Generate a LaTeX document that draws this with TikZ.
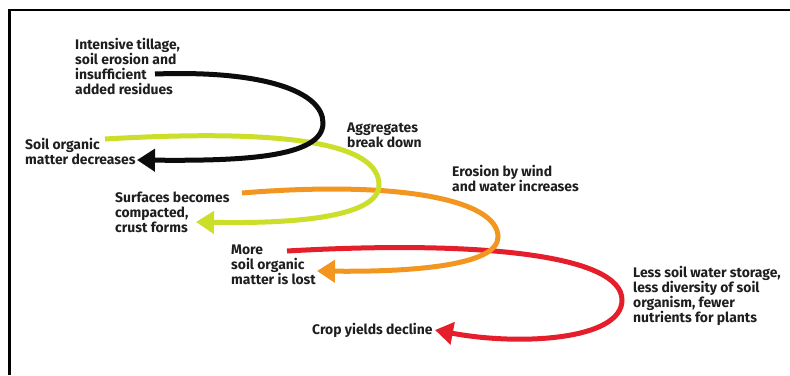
\documentclass[tikz,border=0pt]{standalone}
\usepackage{fontspec}
\setmainfont{Fira Sans}
\usetikzlibrary{arrows.meta}
\definecolor{loopblack}{RGB}{12,12,12}
\definecolor{loopgreen}{RGB}{202,222,42}
\definecolor{looporange}{RGB}{242,150,32}
\definecolor{loopred}{RGB}{228,30,42}
\definecolor{labeltext}{RGB}{30,30,30}

\begin{document}
\begin{tikzpicture}[x=1pt,y=-1pt,
  lbl/.style={font=\bfseries\fontsize{13.9}{15}\selectfont, align=left,
    inner sep=0pt, anchor=west, text=labeltext},
  cycleloop/.style={line width=5pt, -{Triangle[length=18pt,width=22pt]}},
]
\useasboundingbox (0,0) rectangle (790,375);

% open frame along the top and left edges
\draw[line width=2.5pt] (9.5,375) -- (9.5,10) -- (790,10);

% labels
\node[lbl] (till)  at (75,66)   {Intensive tillage,\\soil erosion and\\insufficient\\added residues};
\node[lbl] (som)   at (25,151)  {Soil organic\\matter decreases};
\node[lbl] (agg)   at (347,135) {Aggregates\\break down};
\node[lbl] (crust) at (115,212) {Surfaces becomes\\compacted,\\crust forms};
\node[lbl] (ero)   at (452,178) {Erosion by wind\\and water increases};
\node[lbl] (lost)  at (231,265) {More\\soil organic\\matter is lost};
\node[lbl] (crop)  at (312,330) {Crop yields decline};
\node[lbl] (less)  at (633,296) {Less soil water storage,\\less diversity of soil\\organism, fewer\\nutrients for plants};

% loop end points
\coordinate (k0) at (155,74);  \coordinate (k1) at (137,160);
\coordinate (g0) at (105,139); \coordinate (g1) at (196,222);
\coordinate (o0) at (242,193); \coordinate (o1) at (317,271);
\coordinate (r0) at (287,251); \coordinate (r1) at (435,330);

% the four loops, drawn back to front
\draw[cycleloop, loopred] (r0) .. controls (480,240) and (622,255) .. (622,300)
  .. controls (622,340) and (520,346) .. (r1);
\draw[cycleloop, looporange] (o0) .. controls (400,180) and (498,200) .. (498,237)
  .. controls (498,266) and (410,272) .. (o1);
\draw[cycleloop, loopgreen] (g0) .. controls (295,128) and (379,145) .. (379,185)
  .. controls (379,216) and (300,224) .. (g1);
\draw[cycleloop, loopblack] (k0) .. controls (265,70) and (323,92) .. (323,123)
  .. controls (323,158) and (240,161) .. (k1);
\end{tikzpicture}
\end{document}
